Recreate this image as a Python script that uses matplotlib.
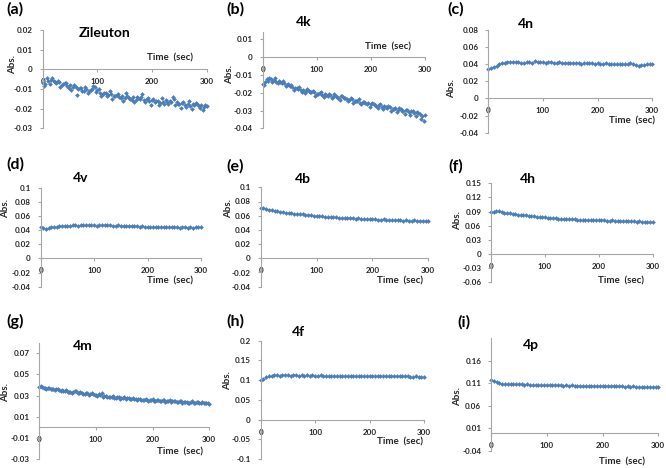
import numpy as np
import matplotlib
matplotlib.use("Agg")
import matplotlib.pyplot as plt

plt.rcParams['font.family'] = ['Lato', 'DejaVu Sans']

# ---------------- data ----------------
time_s = np.arange(0, 301, 5)          # readings every 5 s
time_mid = np.arange(2.5, 300, 5)      # intermediate readings (extra scatter)

abs_zileuton = [-0.0068, -0.0075, -0.0060, -0.0052, -0.0058, -0.0070, -0.0066, -0.0078, -0.0072, -0.0085,
                -0.0080, -0.0092, -0.0088, -0.0100, -0.0095, -0.0108, -0.0102, -0.0112, -0.0098, -0.0090,
                -0.0105, -0.0118, -0.0125, -0.0120, -0.0132, -0.0128, -0.0138, -0.0130, -0.0142, -0.0135,
                -0.0145, -0.0138, -0.0150, -0.0142, -0.0155, -0.0148, -0.0140, -0.0158, -0.0152, -0.0162,
                -0.0155, -0.0168, -0.0160, -0.0172, -0.0165, -0.0158, -0.0175, -0.0168, -0.0150, -0.0165,
                -0.0178, -0.0170, -0.0182, -0.0175, -0.0185, -0.0178, -0.0172, -0.0188, -0.0180, -0.0192,
                -0.0185]
abs_zileuton_mid = [-0.0086, -0.0046, -0.0074, -0.0045, -0.0062, -0.0058, -0.0092, -0.0075, -0.0070, -0.0093,
                    -0.0106, -0.0079, -0.0130, -0.0095, -0.0108, -0.0090, -0.0122, -0.0104, -0.0086, -0.0117,
                    -0.0102, -0.0138, -0.0122, -0.0136, -0.0109, -0.0152, -0.0134, -0.0126, -0.0148, -0.0160,
                    -0.0122, -0.0144, -0.0156, -0.0168, -0.0140, -0.0152, -0.0124, -0.0166, -0.0147, -0.0179,
                    -0.0151, -0.0162, -0.0184, -0.0145, -0.0177, -0.0168, -0.0160, -0.0141, -0.0182, -0.0174,
                    -0.0196, -0.0168, -0.0190, -0.0161, -0.0203, -0.0184, -0.0176, -0.0197, -0.0209, -0.0180]
abs_4k = [-0.0150, -0.0142, -0.0135, -0.0122, -0.0130, -0.0140, -0.0135, -0.0148, -0.0145, -0.0158,
          -0.0162, -0.0170, -0.0175, -0.0178, -0.0185, -0.0182, -0.0192, -0.0188, -0.0198, -0.0195,
          -0.0205, -0.0200, -0.0212, -0.0208, -0.0218, -0.0212, -0.0222, -0.0218, -0.0228, -0.0220,
          -0.0232, -0.0238, -0.0242, -0.0236, -0.0248, -0.0245, -0.0255, -0.0250, -0.0260, -0.0256,
          -0.0266, -0.0262, -0.0272, -0.0268, -0.0278, -0.0272, -0.0285, -0.0280, -0.0290, -0.0286,
          -0.0296, -0.0290, -0.0302, -0.0298, -0.0308, -0.0302, -0.0315, -0.0310, -0.0322, -0.0330,
          -0.0325]
abs_4k_mid = [-0.0155, -0.0125, -0.0120, -0.0138, -0.0118, -0.0145, -0.0139, -0.0135, -0.0165, -0.0152,
              -0.0155, -0.0182, -0.0174, -0.0168, -0.0195, -0.0200, -0.0180, -0.0195, -0.0188, -0.0216,
              -0.0207, -0.0198, -0.0225, -0.0214, -0.0205, -0.0232, -0.0210, -0.0224, -0.0240, -0.0218,
              -0.0232, -0.0248, -0.0228, -0.0256, -0.0247, -0.0238, -0.0266, -0.0250, -0.0261, -0.0278,
              -0.0258, -0.0271, -0.0286, -0.0265, -0.0292, -0.0282, -0.0272, -0.0300, -0.0291, -0.0306,
              -0.0285, -0.0301, -0.0318, -0.0296, -0.0325, -0.0305, -0.0333, -0.0312, -0.0345, -0.0360]
abs_4n = [0.0340, 0.0355, 0.0370, 0.0385, 0.0405, 0.0415, 0.0420, 0.0425, 0.0422, 0.0428,
          0.0430, 0.0425, 0.0420, 0.0418, 0.0422, 0.0425, 0.0420, 0.0432, 0.0428, 0.0422,
          0.0425, 0.0420, 0.0428, 0.0425, 0.0420, 0.0418, 0.0422, 0.0415, 0.0418, 0.0412,
          0.0415, 0.0410, 0.0418, 0.0412, 0.0408, 0.0415, 0.0420, 0.0410, 0.0412, 0.0405,
          0.0410, 0.0402, 0.0408, 0.0412, 0.0405, 0.0400, 0.0398, 0.0402, 0.0405, 0.0400,
          0.0398, 0.0405, 0.0410, 0.0402, 0.0392, 0.0385, 0.0388, 0.0392, 0.0398, 0.0402,
          0.0408]
abs_4v = [0.0440, 0.0425, 0.0420, 0.0430, 0.0438, 0.0442, 0.0450, 0.0455, 0.0460, 0.0458,
          0.0465, 0.0460, 0.0470, 0.0468, 0.0465, 0.0470, 0.0468, 0.0472, 0.0466, 0.0470,
          0.0468, 0.0465, 0.0470, 0.0466, 0.0468, 0.0475, 0.0470, 0.0465, 0.0462, 0.0466,
          0.0460, 0.0458, 0.0462, 0.0455, 0.0458, 0.0452, 0.0455, 0.0450, 0.0452, 0.0448,
          0.0450, 0.0446, 0.0448, 0.0444, 0.0446, 0.0442, 0.0440, 0.0444, 0.0440, 0.0442,
          0.0438, 0.0440, 0.0436, 0.0440, 0.0438, 0.0435, 0.0440, 0.0436, 0.0442, 0.0445,
          0.0448]
abs_4b = [0.0712, 0.0705, 0.0695, 0.0685, 0.0678, 0.0668, 0.0662, 0.0655, 0.0650, 0.0642,
          0.0638, 0.0632, 0.0628, 0.0625, 0.0620, 0.0618, 0.0612, 0.0610, 0.0606, 0.0600,
          0.0598, 0.0594, 0.0590, 0.0586, 0.0582, 0.0580, 0.0576, 0.0575, 0.0570, 0.0572,
          0.0567, 0.0565, 0.0568, 0.0562, 0.0560, 0.0564, 0.0558, 0.0556, 0.0552, 0.0550,
          0.0549, 0.0552, 0.0546, 0.0544, 0.0548, 0.0542, 0.0545, 0.0540, 0.0538, 0.0542,
          0.0535, 0.0532, 0.0536, 0.0530, 0.0528, 0.0534, 0.0530, 0.0526, 0.0532, 0.0528,
          0.0530]
abs_4h = [0.0900, 0.0895, 0.0910, 0.0902, 0.0892, 0.0880, 0.0872, 0.0865, 0.0858, 0.0850,
          0.0838, 0.0832, 0.0830, 0.0822, 0.0815, 0.0805, 0.0798, 0.0792, 0.0785, 0.0780,
          0.0775, 0.0772, 0.0768, 0.0762, 0.0758, 0.0752, 0.0750, 0.0745, 0.0748, 0.0740,
          0.0735, 0.0740, 0.0732, 0.0728, 0.0730, 0.0725, 0.0722, 0.0726, 0.0718, 0.0720,
          0.0716, 0.0712, 0.0715, 0.0710, 0.0708, 0.0712, 0.0705, 0.0702, 0.0706, 0.0700,
          0.0698, 0.0702, 0.0695, 0.0692, 0.0688, 0.0692, 0.0685, 0.0680, 0.0682, 0.0675,
          0.0678]
abs_4m = [0.0385, 0.0378, 0.0372, 0.0368, 0.0362, 0.0365, 0.0358, 0.0352, 0.0348, 0.0342,
          0.0335, 0.0338, 0.0330, 0.0340, 0.0328, 0.0322, 0.0318, 0.0325, 0.0312, 0.0315,
          0.0305, 0.0312, 0.0320, 0.0295, 0.0290, 0.0285, 0.0292, 0.0280, 0.0284, 0.0278,
          0.0282, 0.0275, 0.0270, 0.0278, 0.0272, 0.0268, 0.0262, 0.0258, 0.0262, 0.0255,
          0.0270, 0.0252, 0.0258, 0.0250, 0.0255, 0.0248, 0.0262, 0.0245, 0.0252, 0.0240,
          0.0246, 0.0235, 0.0240, 0.0232, 0.0245, 0.0230, 0.0238, 0.0228, 0.0234, 0.0225,
          0.0222]
abs_4m_mid = [0.0390, 0.0372, 0.0365, 0.0375, 0.0358, 0.0352, 0.0362, 0.0345, 0.0340, 0.0350,
              0.0332, 0.0328, 0.0342, 0.0325, 0.0335, 0.0315, 0.0322, 0.0310, 0.0320, 0.0302,
              0.0298, 0.0305, 0.0288, 0.0298, 0.0282, 0.0290, 0.0278, 0.0285, 0.0272, 0.0280,
              0.0270, 0.0276, 0.0265, 0.0272, 0.0262, 0.0268, 0.0255, 0.0264, 0.0250, 0.0258,
              0.0248, 0.0256, 0.0245, 0.0258, 0.0242, 0.0250, 0.0240, 0.0252, 0.0236, 0.0248,
              0.0230, 0.0242, 0.0228, 0.0238, 0.0232, 0.0240, 0.0225, 0.0235, 0.0228, 0.0230]
abs_4f = [0.1010, 0.1040, 0.1075, 0.1100, 0.1110, 0.1118, 0.1120, 0.1115, 0.1122, 0.1118,
          0.1120, 0.1115, 0.1122, 0.1118, 0.1116, 0.1120, 0.1114, 0.1118, 0.1115, 0.1120,
          0.1116, 0.1112, 0.1118, 0.1110, 0.1115, 0.1112, 0.1108, 0.1116, 0.1112, 0.1110,
          0.1115, 0.1110, 0.1112, 0.1108, 0.1114, 0.1110, 0.1106, 0.1112, 0.1108, 0.1110,
          0.1106, 0.1110, 0.1105, 0.1108, 0.1104, 0.1110, 0.1106, 0.1102, 0.1106, 0.1100,
          0.1104, 0.1098, 0.1102, 0.1095, 0.1100, 0.1092, 0.1088, 0.1094, 0.1085, 0.1090,
          0.1082]
abs_4p = [0.1170, 0.1160, 0.1135, 0.1110, 0.1090, 0.1082, 0.1078, 0.1085, 0.1076, 0.1080,
          0.1075, 0.1078, 0.1070, 0.1074, 0.1068, 0.1072, 0.1066, 0.1070, 0.1062, 0.1065,
          0.1060, 0.1064, 0.1056, 0.1060, 0.1054, 0.1058, 0.1050, 0.1054, 0.1048, 0.1052,
          0.1046, 0.1050, 0.1044, 0.1048, 0.1042, 0.1046, 0.1040, 0.1044, 0.1038, 0.1042,
          0.1036, 0.1040, 0.1034, 0.1038, 0.1030, 0.1035, 0.1028, 0.1032, 0.1026, 0.1030,
          0.1024, 0.1028, 0.1022, 0.1026, 0.1020, 0.1024, 0.1016, 0.1020, 0.1014, 0.1018,
          0.1012]

panel_letters = ['(a)', '(b)', '(c)', '(d)', '(e)', '(f)', '(g)', '(h)', '(i)']
compound_names = ['Zileuton', '4k', '4n', '4v', '4b', '4h', '4m', '4f', '4p']
series = [abs_zileuton, abs_4k, abs_4n, abs_4v, abs_4b, abs_4h, abs_4m, abs_4f, abs_4p]
series_mid = [abs_zileuton_mid, abs_4k_mid, None, None, None, None, abs_4m_mid, None, None]
y_ticks = [
    [-0.03, -0.02, -0.01, 0, 0.01, 0.02],
    [-0.04, -0.03, -0.02, -0.01, 0, 0.01],
    [-0.04, -0.02, 0, 0.02, 0.04, 0.06, 0.08],
    [-0.04, -0.02, 0, 0.02, 0.04, 0.06, 0.08, 0.1],
    [-0.04, -0.02, 0, 0.02, 0.04, 0.06, 0.08, 0.1],
    [-0.06, -0.03, 0, 0.03, 0.06, 0.09, 0.12, 0.15],
    [-0.03, -0.01, 0.01, 0.03, 0.05, 0.07],
    [-0.1, -0.05, 0, 0.05, 0.1, 0.15, 0.2],
    [-0.04, 0.01, 0.06, 0.11, 0.16],
]
y_limits = [(-0.03, 0.02), (-0.04, 0.0143), (-0.04, 0.08), (-0.04, 0.1), (-0.04, 0.1),
            (-0.06, 0.15), (-0.03, 0.08), (-0.1, 0.2), (-0.04, 0.21)]
x_ticks = [0, 100, 200, 300]

# ---------------- layout (pixels) ----------------
W, H = 666, 468
# x of y-axis, x of t=300, y-pixel of ylim top, y-pixel of ylim bottom
axes_px = [
    (42.7, 206.7, 30.0, 128.3),
    (262.7, 425.0, 31.7, 128.3),
    (488.3, 652.3, 30.0, 132.7),
    (40.7, 201.0, 187.7, 286.7),
    (260.7, 428.3, 187.3, 286.7),
    (491.0, 652.7, 183.3, 282.3),
    (39.3, 209.3, 342.7, 459.0),
    (260.7, 424.0, 340.7, 459.0),
    (491.0, 658.3, 338.3, 450.7),
]
letter_pos = [(15, 9), (235, 9), (456, 9), (15, 164), (235, 166), (456, 166),
              (15, 321), (235, 321), (464, 322)]
title_pos = [(105, 33), (304, 22), (526, 24), (81, 178), (303, 179), (528, 179),
             (83, 346), (298, 332), (531, 345)]
time_pos = [(170, 58), (388, 47), (632, 121), (170, 281), (400, 281), (621, 281),
            (180, 452), (400, 442), (622, 462)]
abs_pos = [(13, 65), (230, 74), (452, 89), (6, 209), (229, 209), (458, 221),
           (6, 393), (228, 380), (458, 397)]

fig = plt.figure(figsize=(W / 100, H / 100), dpi=100)

def fx(x):
    return x / W

def fy(y):
    return 1 - y / H

axis_grey = '#A6A6A6'
text_col = '#262626'
blue = '#4A7EBB'

for i in range(9):
    x0, x1, ytop, ybot = axes_px[i]
    ax = fig.add_axes([fx(x0), fy(ybot), (x1 - x0) / W, (ybot - ytop) / H])
    ax.plot(time_s, series[i], linestyle='none', marker='D', markersize=2.4,
            color=blue, markeredgewidth=0, clip_on=False)
    if series_mid[i] is not None:
        ax.plot(time_mid, series_mid[i], linestyle='none', marker='D', markersize=2.4,
                color=blue, markeredgewidth=0, clip_on=False)
    ax.set_xlim(0, 300)
    ax.set_ylim(*y_limits[i])
    ax.set_yticks(y_ticks[i])
    ax.set_yticklabels([f"{v:g}" for v in y_ticks[i]])
    ax.set_xticks(x_ticks)
    ax.set_xticklabels([str(v) for v in x_ticks])
    ax.patch.set_visible(False)
    for s in ['top', 'right']:
        ax.spines[s].set_visible(False)
    ax.spines['bottom'].set_position(('data', 0))
    for s in ['left', 'bottom']:
        ax.spines[s].set_color(axis_grey)
        ax.spines[s].set_linewidth(0.8)
    ax.tick_params(axis='both', direction='out', length=2.5, width=0.8,
                   color=axis_grey, labelsize=5.8, labelcolor=text_col)
    ax.tick_params(axis='y', pad=4.5)
    ax.tick_params(axis='x', pad=4)
    for lab in ax.get_xticklabels() + ax.get_yticklabels():
        lab.set_fontweight('bold')

    fig.text(fx(letter_pos[i][0]), fy(letter_pos[i][1]), panel_letters[i],
             fontsize=11.5, fontweight='bold', ha='center', va='center', color='black')
    fig.text(fx(title_pos[i][0]), fy(title_pos[i][1]), compound_names[i],
             fontsize=10, fontweight='bold', ha='center', va='center', color='black')
    fig.text(fx(time_pos[i][0]), fy(time_pos[i][1]), 'Time  (sec)',
             fontsize=7, fontweight='bold', ha='center', va='center', color=text_col)
    fig.text(fx(abs_pos[i][0]), fy(abs_pos[i][1]), 'Abs.', rotation=90,
             fontsize=7, fontweight='bold', ha='center', va='center', color=text_col)

fig.savefig('out.png', dpi=100, facecolor='white')
